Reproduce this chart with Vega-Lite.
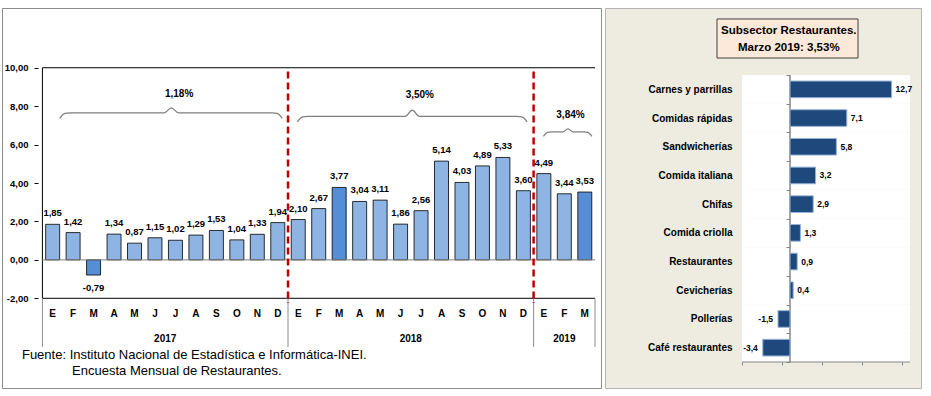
{
  "$schema": "https://vega.github.io/schema/vega-lite/v6.json",
  "padding": {"left": 1, "top": 2, "right": 0, "bottom": 0},
  "spacing": 2,
  "background": "white",
  "config": {
    "locale": {"number": {"decimal": ",", "thousands": ".", "grouping": [3], "currency": ["", ""], "minus": "-"}},
    "font": "Liberation Sans, Arial, sans-serif",
    "text": {"font": "Liberation Sans, Arial, sans-serif"},
    "axis": {"labelFont": "Liberation Sans, Arial, sans-serif"}
  },
  "datasets": {
    "meses": [
      {"n": 1, "anio": 2017, "mes": "Ene", "inicial": "E", "valor": 1.85},
      {"n": 2, "anio": 2017, "mes": "Feb", "inicial": "F", "valor": 1.42},
      {"n": 3, "anio": 2017, "mes": "Mar", "inicial": "M", "valor": -0.79},
      {"n": 4, "anio": 2017, "mes": "Abr", "inicial": "A", "valor": 1.34},
      {"n": 5, "anio": 2017, "mes": "May", "inicial": "M", "valor": 0.87},
      {"n": 6, "anio": 2017, "mes": "Jun", "inicial": "J", "valor": 1.15},
      {"n": 7, "anio": 2017, "mes": "Jul", "inicial": "J", "valor": 1.02},
      {"n": 8, "anio": 2017, "mes": "Ago", "inicial": "A", "valor": 1.29},
      {"n": 9, "anio": 2017, "mes": "Set", "inicial": "S", "valor": 1.53},
      {"n": 10, "anio": 2017, "mes": "Oct", "inicial": "O", "valor": 1.04},
      {"n": 11, "anio": 2017, "mes": "Nov", "inicial": "N", "valor": 1.33},
      {"n": 12, "anio": 2017, "mes": "Dic", "inicial": "D", "valor": 1.94},
      {"n": 13, "anio": 2018, "mes": "Ene", "inicial": "E", "valor": 2.10},
      {"n": 14, "anio": 2018, "mes": "Feb", "inicial": "F", "valor": 2.67},
      {"n": 15, "anio": 2018, "mes": "Mar", "inicial": "M", "valor": 3.77},
      {"n": 16, "anio": 2018, "mes": "Abr", "inicial": "A", "valor": 3.04},
      {"n": 17, "anio": 2018, "mes": "May", "inicial": "M", "valor": 3.11},
      {"n": 18, "anio": 2018, "mes": "Jun", "inicial": "J", "valor": 1.86},
      {"n": 19, "anio": 2018, "mes": "Jul", "inicial": "J", "valor": 2.56},
      {"n": 20, "anio": 2018, "mes": "Ago", "inicial": "A", "valor": 5.14},
      {"n": 21, "anio": 2018, "mes": "Set", "inicial": "S", "valor": 4.03},
      {"n": 22, "anio": 2018, "mes": "Oct", "inicial": "O", "valor": 4.89},
      {"n": 23, "anio": 2018, "mes": "Nov", "inicial": "N", "valor": 5.33},
      {"n": 24, "anio": 2018, "mes": "Dic", "inicial": "D", "valor": 3.60},
      {"n": 25, "anio": 2019, "mes": "Ene", "inicial": "E", "valor": 4.49},
      {"n": 26, "anio": 2019, "mes": "Feb", "inicial": "F", "valor": 3.44},
      {"n": 27, "anio": 2019, "mes": "Mar", "inicial": "M", "valor": 3.53}
    ],
    "llaves": [
      {"periodo": "2017", "x": 1.35, "y": 7.37}, {"periodo": "2017", "x": 1.6, "y": 7.62}, {"periodo": "2017", "x": 1.85, "y": 7.65},
      {"periodo": "2017", "x": 6.45, "y": 7.65}, {"periodo": "2017", "x": 6.8, "y": 7.91}, {"periodo": "2017", "x": 7.15, "y": 7.65},
      {"periodo": "2017", "x": 11.72, "y": 7.65}, {"periodo": "2017", "x": 11.97, "y": 7.62}, {"periodo": "2017", "x": 12.22, "y": 7.37},
      {"periodo": "2018", "x": 12.96, "y": 7.18}, {"periodo": "2018", "x": 13.21, "y": 7.44}, {"periodo": "2018", "x": 13.46, "y": 7.47},
      {"periodo": "2018", "x": 18.22, "y": 7.47}, {"periodo": "2018", "x": 18.57, "y": 7.79}, {"periodo": "2018", "x": 18.92, "y": 7.47},
      {"periodo": "2018", "x": 23.68, "y": 7.47}, {"periodo": "2018", "x": 23.93, "y": 7.44}, {"periodo": "2018", "x": 24.18, "y": 7.18},
      {"periodo": "2019", "x": 24.98, "y": 6.43}, {"periodo": "2019", "x": 25.18, "y": 6.63}, {"periodo": "2019", "x": 25.38, "y": 6.66},
      {"periodo": "2019", "x": 25.93, "y": 6.66}, {"periodo": "2019", "x": 26.18, "y": 6.82}, {"periodo": "2019", "x": 26.43, "y": 6.66},
      {"periodo": "2019", "x": 26.95, "y": 6.66}, {"periodo": "2019", "x": 27.15, "y": 6.63}, {"periodo": "2019", "x": 27.35, "y": 6.43}
    ],
    "subsector": [
      {"sector": "Carnes y parrillas", "valor": 12.7},
      {"sector": "Comidas rápidas", "valor": 7.1},
      {"sector": "Sandwicherías", "valor": 5.8},
      {"sector": "Comida italiana", "valor": 3.2},
      {"sector": "Chifas", "valor": 2.9},
      {"sector": "Comida criolla", "valor": 1.3},
      {"sector": "Restaurantes", "valor": 0.9},
      {"sector": "Cevicherías", "valor": 0.4},
      {"sector": "Pollerías", "valor": -1.5},
      {"sector": "Café restaurantes", "valor": -3.4}
    ]
  },
  "hconcat": [
    {
      "width": 599,
      "height": 380,
      "view": {"fill": "white", "stroke": "#8c8c8c", "strokeWidth": 1},
      "resolve": {"axis": {"x": "independent", "y": "independent"}},
      "layer": [
        {
          "data": {"values": [{}]},
          "mark": {"type": "rule", "color": "black", "strokeWidth": 1},
          "encoding": {
            "x": {"datum": 0.5, "type": "quantitative", "scale": {"domain": [-1.23, 27.548], "nice": false, "zero": false}, "axis": null},
            "y": {"datum": -2, "type": "quantitative", "scale": {"domain": [-6.67, 13.11], "nice": false, "zero": false},
              "axis": {"values": [-2, 0, 2, 4, 6, 8, 10], "format": ".2f", "offset": -36, "domain": false, "grid": false,
                "tickSize": 4, "tickColor": "black", "labelPadding": 6, "labelFontSize": 9.5, "labelFontWeight": "bold",
                "labelColor": "black", "title": null}},
            "y2": {"datum": 10}
          }
        },
        {
          "data": {"values": [{}]},
          "mark": {"type": "rule", "color": "black", "strokeWidth": 1},
          "encoding": {"x": {"datum": 0.5, "axis": null}, "x2": {"datum": 27.5}, "y": {"datum": 10, "axis": null}}
        },
        {
          "data": {"values": [{}]},
          "mark": {"type": "rule", "color": "black", "strokeWidth": 1},
          "encoding": {"x": {"datum": 0.5, "axis": null}, "x2": {"datum": 27.5}, "y": {"datum": -2, "axis": null}}
        },
        {
          "data": {"values": [{"limite": 0.5}, {"limite": 12.5}, {"limite": 24.5}, {"limite": 27.5}]},
          "mark": {"type": "rule", "color": "#8c8c8c", "strokeWidth": 1},
          "encoding": {"x": {"field": "limite", "type": "quantitative", "axis": null}, "y": {"datum": -2, "axis": null}, "y2": {"datum": -4.53}}
        },
        {
          "data": {"name": "meses"},
          "mark": {"type": "bar", "size": 14, "stroke": "black", "strokeWidth": 0.8},
          "encoding": {
            "x": {"field": "n", "type": "quantitative", "axis": null},
            "y": {"field": "valor", "type": "quantitative", "axis": null},
            "fill": {"condition": {"test": "datum.mes === 'Mar'", "value": "#558ED5"}, "value": "#8DB4E2"}
          }
        },
        {
          "data": {"values": [{}]},
          "mark": {"type": "rule", "color": "#808080", "strokeWidth": 1},
          "encoding": {"x": {"datum": 0.5, "axis": null}, "x2": {"datum": 27.5}, "y": {"datum": 0, "axis": null}}
        },
        {
          "data": {"values": [{"corte": 12.5}, {"corte": 24.5}]},
          "mark": {"type": "rule", "color": "#C00000", "strokeWidth": 2.5, "strokeDash": [7, 4]},
          "encoding": {"x": {"field": "corte", "type": "quantitative", "axis": null}, "y": {"datum": 9.8, "axis": null}, "y2": {"datum": -2.25}}
        },
        {
          "data": {"name": "meses"},
          "transform": [{"filter": "datum.valor >= 0"}],
          "mark": {"type": "text", "fontSize": 9.5, "fontWeight": "bold", "baseline": "middle", "dy": -11, "color": "black"},
          "encoding": {
            "x": {"field": "n", "type": "quantitative", "axis": null},
            "y": {"field": "valor", "type": "quantitative", "axis": null},
            "text": {"field": "valor", "type": "quantitative", "format": ".2f"}
          }
        },
        {
          "data": {"name": "meses"},
          "transform": [{"filter": "datum.valor < 0"}],
          "mark": {"type": "text", "fontSize": 9.5, "fontWeight": "bold", "baseline": "middle", "dy": 13, "color": "black"},
          "encoding": {
            "x": {"field": "n", "type": "quantitative", "axis": null},
            "y": {"field": "valor", "type": "quantitative", "axis": null},
            "text": {"field": "valor", "type": "quantitative", "format": ".2f"}
          }
        },
        {
          "data": {"name": "meses"},
          "mark": {"type": "text", "fontSize": 10, "fontWeight": "bold", "baseline": "middle", "color": "black"},
          "encoding": {
            "x": {"field": "n", "type": "quantitative", "axis": null},
            "y": {"datum": -2.82, "axis": null},
            "text": {"field": "inicial", "type": "nominal"}
          }
        },
        {
          "data": {"name": "meses"},
          "transform": [{"aggregate": [{"op": "mean", "field": "n", "as": "centro"}], "groupby": ["anio"]}],
          "mark": {"type": "text", "fontSize": 10, "fontWeight": "bold", "baseline": "middle", "color": "black"},
          "encoding": {
            "x": {"field": "centro", "type": "quantitative", "axis": null},
            "y": {"datum": -4.14, "axis": null},
            "text": {"field": "anio", "type": "nominal"}
          }
        },
        {
          "data": {"name": "llaves"},
          "mark": {"type": "line", "color": "#7f7f7f", "strokeWidth": 1.3, "interpolate": "monotone"},
          "encoding": {
            "x": {"field": "x", "type": "quantitative", "axis": null},
            "y": {"field": "y", "type": "quantitative", "axis": null},
            "detail": {"field": "periodo", "type": "nominal"}
          }
        },
        {
          "data": {"values": [{}]},
          "mark": {"type": "text", "text": "1,18%", "fontSize": 10, "fontWeight": "bold", "baseline": "middle", "color": "black"},
          "encoding": {"x": {"datum": 7.18, "axis": null}, "y": {"datum": 8.62, "axis": null}}
        },
        {
          "data": {"values": [{}]},
          "mark": {"type": "text", "text": "3,50%", "fontSize": 10, "fontWeight": "bold", "baseline": "middle", "color": "black"},
          "encoding": {"x": {"datum": 18.94, "axis": null}, "y": {"datum": 8.57, "axis": null}}
        },
        {
          "data": {"values": [{}]},
          "mark": {"type": "text", "text": "3,84%", "fontSize": 10, "fontWeight": "bold", "baseline": "middle", "color": "black"},
          "encoding": {"x": {"datum": 26.3, "axis": null}, "y": {"datum": 7.56, "axis": null}}
        },
        {
          "data": {"values": [{}]},
          "mark": {"type": "text", "text": "Fuente: Instituto Nacional de Estadística e Informática-INEI.", "fontSize": 13, "align": "left", "baseline": "middle", "color": "black"},
          "encoding": {"x": {"datum": -0.5, "axis": null}, "y": {"datum": -4.95, "axis": null}}
        },
        {
          "data": {"values": [{}]},
          "mark": {"type": "text", "text": "Encuesta Mensual de  Restaurantes.", "fontSize": 13, "align": "left", "baseline": "middle", "color": "black"},
          "encoding": {"x": {"datum": 1.95, "axis": null}, "y": {"datum": -5.78, "axis": null}}
        }
      ]
    },
    {
      "width": 316,
      "height": 380,
      "view": {"fill": "#EEECE1", "stroke": "#b4b4b4", "strokeWidth": 1},
      "resolve": {"axis": {"x": "independent", "y": "independent"}},
      "layer": [
        {
          "data": {"name": "subsector"},
          "mark": {"type": "rect", "fill": "white"},
          "encoding": {
            "y": {"field": "sector", "type": "nominal", "sort": null,
              "scale": {"type": "band", "paddingInner": 0, "paddingOuter": 0, "range": [67, 354]},
              "axis": {"orient": "left", "offset": -185, "domain": false, "grid": false, "tickBand": "extent", "tickSize": 4,
                "tickColor": "#868686", "labelPadding": 54, "labelFontSize": 10, "labelFontWeight": "bold", "labelColor": "black", "title": null}},
            "x": {"datum": -6, "type": "quantitative", "scale": {"domain": [-23.125, 16.375], "nice": false, "zero": false},
              "axis": {"orient": "bottom", "offset": -26, "values": [-6, -1, 4, 9, 14], "labels": false, "domain": false, "grid": false,
                "tickSize": 3, "tickColor": "#868686", "title": null}},
            "x2": {"datum": 15}
          }
        },
        {
          "data": {"name": "subsector"},
          "mark": {"type": "rect", "fill": "transparent", "stroke": "#868686", "strokeWidth": 1},
          "encoding": {
            "y": {"field": "sector", "type": "nominal", "sort": null, "axis": null},
            "x": {"datum": 0, "axis": null},
            "x2": {"datum": 0}
          }
        },
        {
          "data": {"values": [{}]},
          "mark": {"type": "rule", "color": "#868686", "strokeWidth": 1},
          "encoding": {
            "y": {"datum": "Café restaurantes", "bandPosition": 1, "axis": null},
            "x": {"datum": -6, "axis": null},
            "x2": {"datum": 15}
          }
        },
        {
          "data": {"name": "subsector"},
          "mark": {"type": "bar", "height": {"band": 0.58}, "fill": "#1F497D", "stroke": "#95B3D7", "strokeWidth": 1},
          "encoding": {
            "y": {"field": "sector", "type": "nominal", "sort": null, "axis": null},
            "x": {"field": "valor", "type": "quantitative", "axis": null}
          }
        },
        {
          "data": {"name": "subsector"},
          "transform": [{"filter": "datum.valor >= 0"}],
          "mark": {"type": "text", "align": "left", "dx": 4, "fontSize": 8.5, "fontWeight": "bold", "color": "black", "baseline": "middle"},
          "encoding": {
            "y": {"field": "sector", "type": "nominal", "sort": null, "axis": null},
            "x": {"field": "valor", "type": "quantitative", "axis": null},
            "text": {"field": "valor", "type": "quantitative", "format": ".1f"}
          }
        },
        {
          "data": {"name": "subsector"},
          "transform": [{"filter": "datum.valor < 0"}],
          "mark": {"type": "text", "align": "right", "dx": -5, "fontSize": 8.5, "fontWeight": "bold", "color": "black", "baseline": "middle"},
          "encoding": {
            "y": {"field": "sector", "type": "nominal", "sort": null, "axis": null},
            "x": {"field": "valor", "type": "quantitative", "axis": null},
            "text": {"field": "valor", "type": "quantitative", "format": ".1f"}
          }
        },
        {
          "data": {"values": [{}]},
          "mark": {"type": "point", "shape": "M-1,-0.277L1,-0.277L1,0.277L-1,0.277Z", "size": 19881, "filled": true,
            "fill": "#FDE9D9", "stroke": "#404040", "strokeWidth": 1, "opacity": 1, "yOffset": -50.85},
          "encoding": {
            "y": {"datum": "Carnes y parrillas", "axis": null},
            "x": {"datum": -0.3125, "axis": null}
          }
        },
        {
          "data": {"values": [{}]},
          "mark": {"type": "text", "text": "Subsector Restaurantes.", "fontSize": 11.5, "fontWeight": "bold", "color": "black", "baseline": "middle", "dy": -58.85},
          "encoding": {
            "y": {"datum": "Carnes y parrillas", "axis": null},
            "x": {"datum": -0.15, "axis": null}
          }
        },
        {
          "data": {"values": [{}]},
          "mark": {"type": "text", "text": "Marzo 2019: 3,53%", "fontSize": 11.5, "fontWeight": "bold", "color": "black", "baseline": "middle", "dy": -41.35},
          "encoding": {
            "y": {"datum": "Carnes y parrillas", "axis": null},
            "x": {"datum": -0.15, "axis": null}
          }
        }
      ]
    }
  ]
}
